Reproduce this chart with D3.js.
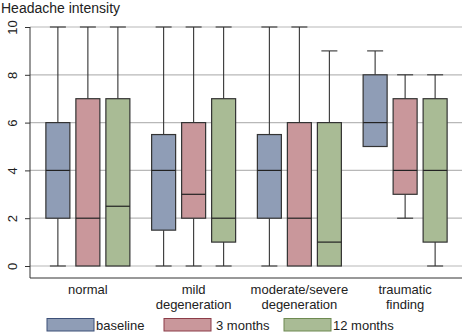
<!DOCTYPE html>
<html lang="en">
<head>
<meta charset="UTF-8">
<title>headache_boxplot</title>
<script src="https://cdn.jsdelivr.net/npm/d3@7"></script>
<style>
  body { margin: 0; background: #fff; }
  text { font-family: "Liberation Sans", Arial, sans-serif; }
</style>
</head>
<body>
<svg width="464" height="332" id="mainsvg"></svg>
<script>
// categories and series
const groups = ['normal', 'mild\ndegeneration', 'moderate/severe\ndegeneration', 'traumatic\nfinding'];
const series = ['baseline', '3 months', '12 months'];
const yTicks = [0, 2, 4, 6, 8, 10];

// [min, q1, median, q3, max] per group, one array per series
const baselineStats = [[0, 2, 4, 6, 10], [0, 1.5, 4, 5.5, 10], [0, 2, 4, 5.5, 10], [5, 5, 6, 8, 9]];
const month3Stats   = [[0, 0, 2, 7, 10], [0, 2, 3, 6, 10], [0, 0, 2, 6, 10], [2, 3, 4, 7, 8]];
const month12Stats  = [[0, 0, 2.5, 7, 10], [0, 1, 2, 7, 10], [0, 0, 1, 6, 9], [0, 1, 4, 7, 8]];

const fills = ['#8f9db6', '#c9979b', '#a9bb95'];
const legendStroke = ['#3d5078', '#8c3d48', '#6e8a52'];

const svg = d3.select('svg');
const allStats = [baselineStats, month3Stats, month12Stats];

const yScale = d3.scaleLinear().domain([0, 10]).range([266, 27]);
const xScale = d3.scaleBand().domain(groups).range([35, 458]);
const subScale = d3.scaleBand().domain(series).range([-45, 45]);

// gridlines
svg.append('g').selectAll('line').data(yTicks).enter().append('line')
  .attr('x1', 30).attr('x2', 462)
  .attr('y1', d => yScale(d)).attr('y2', d => yScale(d))
  .attr('stroke', '#b8b8b8').attr('stroke-width', 1.2);

// y axis
const yAxis = d3.axisLeft(yScale).tickValues(yTicks).tickSize(5).tickSizeOuter(0);
const yAxisGroup = svg.append('g').attr('transform', 'translate(30,0)').call(yAxis);
yAxisGroup.select('.domain').remove();
yAxisGroup.selectAll('.tick line').attr('stroke', '#333');
yAxisGroup.selectAll('.tick text')
  .attr('transform', 'rotate(-90)')
  .attr('x', 0).attr('y', -13)
  .attr('dy', 0)
  .attr('text-anchor', 'middle')
  .attr('font-size', 13)
  .attr('fill', '#222');
svg.append('line').attr('x1', 30).attr('x2', 30).attr('y1', 27).attr('y2', 278)
  .attr('stroke', '#333');
svg.append('line').attr('x1', 30).attr('x2', 462).attr('y1', 278).attr('y2', 278)
  .attr('stroke', '#333');

// boxes
series.forEach((s, si) => {
  const g = svg.append('g');
  allStats[si].forEach((st, gi) => {
    const cx = xScale(groups[gi]) + xScale.bandwidth() / 2 + subScale(s) + subScale.bandwidth() / 2;
    const bw = 24;
    const capW = 16;
    const [mn, q1, md, q3, mx] = st;
    // whiskers
    if (mx > q3) {
      g.append('line').attr('x1', cx).attr('x2', cx).attr('y1', yScale(q3)).attr('y2', yScale(mx))
        .attr('stroke', '#333').attr('stroke-width', 1.1);
      g.append('line').attr('x1', cx - capW / 2).attr('x2', cx + capW / 2)
        .attr('y1', yScale(mx)).attr('y2', yScale(mx)).attr('stroke', '#333').attr('stroke-width', 1.1);
    }
    if (mn < q1) {
      g.append('line').attr('x1', cx).attr('x2', cx).attr('y1', yScale(q1)).attr('y2', yScale(mn))
        .attr('stroke', '#333').attr('stroke-width', 1.1);
      g.append('line').attr('x1', cx - capW / 2).attr('x2', cx + capW / 2)
        .attr('y1', yScale(mn)).attr('y2', yScale(mn)).attr('stroke', '#333').attr('stroke-width', 1.1);
    }
    g.append('rect')
      .attr('x', cx - bw / 2).attr('width', bw)
      .attr('y', yScale(q3)).attr('height', yScale(q1) - yScale(q3))
      .attr('fill', fills[si]).attr('stroke', '#333').attr('stroke-width', 1.2);
    g.append('line').attr('x1', cx - bw / 2).attr('x2', cx + bw / 2)
      .attr('y1', yScale(md)).attr('y2', yScale(md))
      .attr('stroke', '#222').attr('stroke-width', 1.2);
  });
});

// title
svg.append('text').attr('x', 1).attr('y', 13)
  .attr('font-size', 14).attr('fill', '#222').text('Headache intensity');

// category labels
const catG = svg.append('g');
groups.forEach(gname => {
  const cx = xScale(gname) + xScale.bandwidth() / 2;
  const t = catG.append('text').attr('x', cx).attr('y', 294)
    .attr('text-anchor', 'middle').attr('font-size', 13).attr('fill', '#222');
  gname.split('\n').forEach((line, i) => {
    t.append('tspan').attr('x', cx).attr('dy', i === 0 ? 0 : 15).text(line);
  });
});

// legend
const legendX = [47, 164, 284];
const legend = svg.append('g');
series.forEach((s, i) => {
  legend.append('rect').attr('x', legendX[i]).attr('y', 318.5).attr('width', 47).attr('height', 12.5)
    .attr('fill', fills[i]).attr('stroke', legendStroke[i]).attr('stroke-width', 1);
  legend.append('text').attr('x', legendX[i] + (i === 1 ? 52 : 49)).attr('y', 329.5)
    .attr('font-size', 13).attr('fill', '#222').text(s);
});
</script>
</body>
</html>
